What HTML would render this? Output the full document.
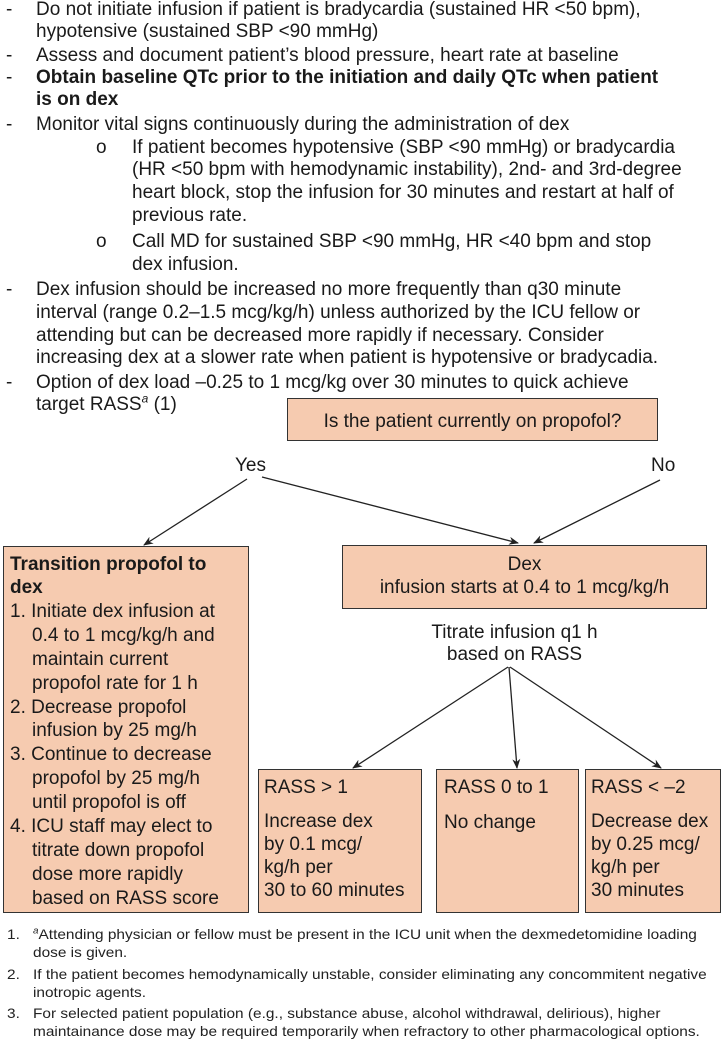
<!DOCTYPE html>
<html><head><meta charset="utf-8"><style>
body{margin:0;width:722px;height:1037px;background:#fff;position:relative;overflow:hidden;font-family:"Liberation Sans",Arial,sans-serif;color:#1a1a1a}
.l{position:absolute;font-size:19px;white-space:nowrap;line-height:22px}
.b{position:absolute;background:#f6cbb0;border:1.5px solid #333;box-sizing:border-box}
.f{position:absolute;font-size:14px;white-space:nowrap;line-height:16px;color:#222;transform:scaleX(1.1);transform-origin:0 0}
</style></head><body>
<div class="l" style="left:6px;top:-1px">-</div><div class="l" style="left:36px;top:-1px">Do not initiate infusion if patient is bradycardia (sustained HR &lt;50 bpm),</div>
<div class="l" style="left:36px;top:21px">hypotensive (sustained SBP &lt;90 mmHg)</div>
<div class="l" style="left:6px;top:45px">-</div><div class="l" style="left:36px;top:45px">Assess and document patient’s blood pressure, heart rate at baseline</div>
<div class="l" style="left:6px;top:67px">-</div><div class="l" style="left:36px;top:67px;font-weight:bold">Obtain baseline QTc prior to the initiation and daily QTc when patient</div>
<div class="l" style="left:36px;top:89px;font-weight:bold">is on dex</div>
<div class="l" style="left:6px;top:114px">-</div><div class="l" style="left:36px;top:114px">Monitor vital signs continuously during the administration of dex</div>
<div class="l" style="left:96px;top:137px">o</div><div class="l" style="left:132px;top:137px">If patient becomes hypotensive (SBP &lt;90 mmHg) or bradycardia</div>
<div class="l" style="left:132px;top:159px">(HR &lt;50 bpm with hemodynamic instability), 2nd- and 3rd-degree</div>
<div class="l" style="left:132px;top:182px">heart block, stop the infusion for 30 minutes and restart at half of</div>
<div class="l" style="left:132px;top:205px">previous rate.</div>
<div class="l" style="left:96px;top:231px">o</div><div class="l" style="left:132px;top:231px">Call MD for sustained SBP &lt;90 mmHg, HR &lt;40 bpm and stop</div>
<div class="l" style="left:132px;top:254px">dex infusion.</div>
<div class="l" style="left:6px;top:279px">-</div><div class="l" style="left:36px;top:279px">Dex infusion should be increased no more frequently than q30 minute</div>
<div class="l" style="left:36px;top:302px">interval (range 0.2–1.5 mcg/kg/h) unless authorized by the ICU fellow or</div>
<div class="l" style="left:36px;top:325px">attending but can be decreased more rapidly if necessary. Consider</div>
<div class="l" style="left:36px;top:347px">increasing dex at a slower rate when patient is hypotensive or bradycadia.</div>
<div class="l" style="left:6px;top:372px">-</div><div class="l" style="left:36px;top:372px">Option of dex load –0.25 to 1 mcg/kg over 30 minutes to quick achieve</div>
<div class="l" style="left:36px;top:394px">target RASS<sup style="font-size:12px;font-style:italic;line-height:0">a</sup> (1)</div>

<div class="b" style="left:287px;top:398px;width:371px;height:43px"></div>
<div class="l" style="left:287px;top:411px;width:371px;text-align:center">Is the patient currently on propofol?</div>
<div class="l" style="left:235px;top:455px">Yes</div>
<div class="l" style="left:651px;top:455px">No</div>

<div class="b" style="left:3px;top:546px;width:246px;height:367px"></div>
<div class="l" style="left:10px;top:554px;font-weight:bold">Transition propofol to</div>
<div class="l" style="left:10px;top:577px;font-weight:bold">dex</div>
<div class="l" style="left:10px;top:601px">1. Initiate dex infusion at</div>
<div class="l" style="left:32px;top:625px">0.4 to 1 mcg/kg/h and</div>
<div class="l" style="left:32px;top:649px">maintain current</div>
<div class="l" style="left:32px;top:673px">propofol rate for 1 h</div>
<div class="l" style="left:10px;top:697px">2. Decrease propofol</div>
<div class="l" style="left:32px;top:720px">infusion by 25 mg/h</div>
<div class="l" style="left:10px;top:744px">3. Continue to decrease</div>
<div class="l" style="left:32px;top:768px">propofol by 25 mg/h</div>
<div class="l" style="left:32px;top:792px">until propofol is off</div>
<div class="l" style="left:10px;top:816px">4. ICU staff may elect to</div>
<div class="l" style="left:32px;top:840px">titrate down propofol</div>
<div class="l" style="left:32px;top:864px">dose more rapidly</div>
<div class="l" style="left:32px;top:888px">based on RASS score</div>

<div class="b" style="left:342px;top:545px;width:365px;height:64px"></div>
<div class="l" style="left:342px;top:554px;width:365px;text-align:center">Dex</div>
<div class="l" style="left:342px;top:577px;width:365px;text-align:center">infusion starts at 0.4 to 1 mcg/kg/h</div>
<div class="l" style="left:332px;top:622px;width:365px;text-align:center">Titrate infusion q1 h</div>
<div class="l" style="left:332px;top:644px;width:365px;text-align:center">based on RASS</div>

<div class="b" style="left:258px;top:769px;width:164px;height:144px"></div>
<div class="l" style="left:264px;top:777px">RASS &gt; 1</div>
<div class="l" style="left:264px;top:811px">Increase dex</div>
<div class="l" style="left:264px;top:834px">by 0.1 mcg/</div>
<div class="l" style="left:264px;top:857px">kg/h per</div>
<div class="l" style="left:264px;top:880px">30 to 60 minutes</div>
<div class="b" style="left:436px;top:769px;width:143px;height:144px"></div>
<div class="l" style="left:444px;top:777px">RASS 0 to 1</div>
<div class="l" style="left:444px;top:812px">No change</div>
<div class="b" style="left:585px;top:769px;width:136px;height:144px"></div>
<div class="l" style="left:591px;top:777px">RASS &lt; –2</div>
<div class="l" style="left:591px;top:811px">Decrease dex</div>
<div class="l" style="left:591px;top:834px">by 0.25 mcg/</div>
<div class="l" style="left:591px;top:857px">kg/h per</div>
<div class="l" style="left:591px;top:880px">30 minutes</div>

<svg width="722" height="1037" style="position:absolute;left:0;top:0" >
<defs><marker id="a" markerWidth="10" markerHeight="8" refX="9" refY="4" orient="auto" markerUnits="userSpaceOnUse"><path d="M0,0 L10,4 L0,8 L3,4 Z" fill="#222"/></marker></defs>
<g stroke="#222" stroke-width="1.3" fill="none" marker-end="url(#a)">
<line x1="247" y1="479" x2="144" y2="545"/>
<line x1="262" y1="477" x2="518" y2="543"/>
<line x1="660" y1="480" x2="534" y2="543"/>
<line x1="508" y1="667" x2="353" y2="768"/>
<line x1="509" y1="667" x2="517" y2="768"/>
<line x1="510" y1="667" x2="661" y2="768"/>
</g></svg>

<div class="f" style="left:7px;top:926px">1.</div><div class="f" style="left:33px;top:926px"><sup style="font-size:9px;font-style:italic;line-height:0">a</sup>Attending physician or fellow must be present in the ICU unit when the dexmedetomidine loading</div>
<div class="f" style="left:33px;top:944px">dose is given.</div>
<div class="f" style="left:7px;top:966px">2.</div><div class="f" style="left:33px;top:966px">If the patient becomes hemodynamically unstable, consider eliminating any concommitent negative</div>
<div class="f" style="left:33px;top:984px">inotropic agents.</div>
<div class="f" style="left:7px;top:1005px">3.</div><div class="f" style="left:33px;top:1005px">For selected patient population (e.g., substance abuse, alcohol withdrawal, delirious), higher</div>
<div class="f" style="left:33px;top:1023px">maintainance dose may be required temporarily when refractory to other pharmacological options.</div>
</body></html>
